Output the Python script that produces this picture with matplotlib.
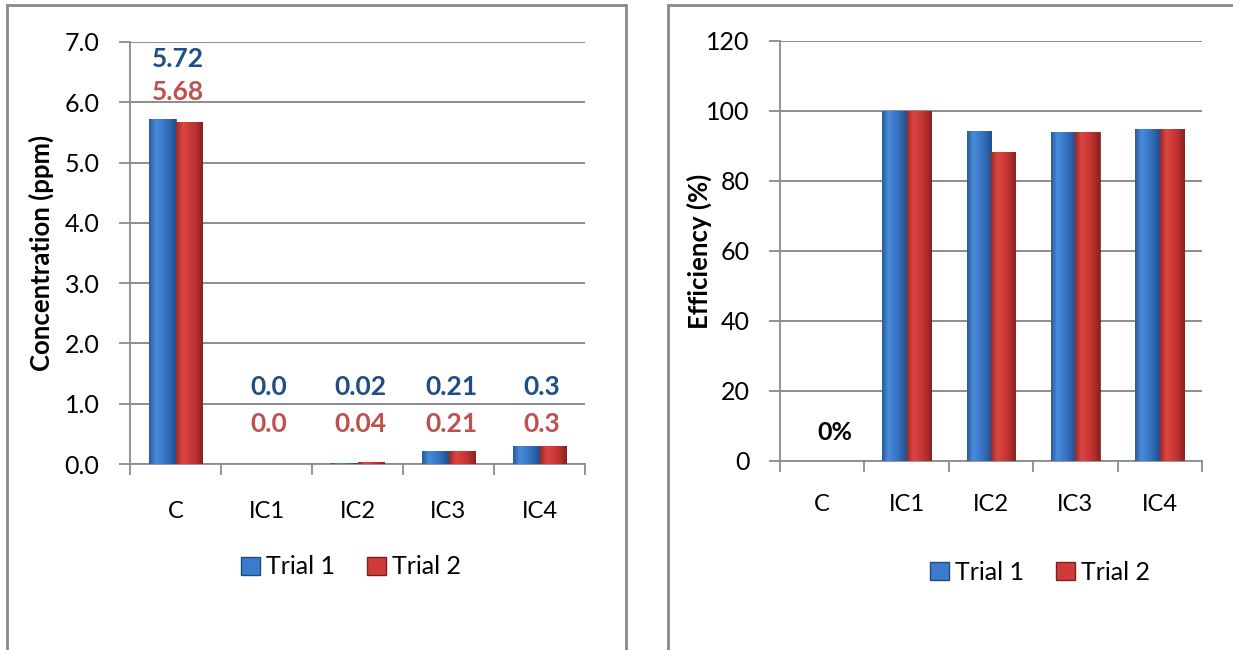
import numpy as np
import matplotlib
matplotlib.use("Agg")
import matplotlib.pyplot as plt
from matplotlib.colors import LinearSegmentedColormap
from matplotlib.patches import Rectangle, Patch

plt.rcParams["font.family"] = ["Lato", "DejaVu Sans"]

# data
categories = ["C", "IC1", "IC2", "IC3", "IC4"]
series = ["Trial 1", "Trial 2"]

conc_trial1 = [5.72, 0.0, 0.02, 0.21, 0.30]
conc_trial2 = [5.68, 0.0, 0.04, 0.21, 0.30]
conc_labels1 = ["5.72", "0.0", "0.02", "0.21", "0.3"]
conc_labels2 = ["5.68", "0.0", "0.04", "0.21", "0.3"]

eff_trial1 = [0.0, 100.0, 94.3, 94.0, 94.9]
eff_trial2 = [0.0, 100.0, 88.3, 94.0, 94.9]

blue_cmap = LinearSegmentedColormap.from_list(
    "b", ["#2a5a9c", "#4a8cdb", "#3b7bcc", "#2f68b2", "#244f8a"])
red_cmap = LinearSegmentedColormap.from_list(
    "r", ["#9a2a28", "#dc4642", "#cf3b38", "#b8302e", "#862221"])
blue_label = "#1f4e87"
red_label = "#c0504d"
grid_col = "#8c8c8c"


def shade_bars(ax, bars, cmap):
    grad = np.linspace(0, 1, 64).reshape(1, -1)
    for b in bars:
        h = b.get_height()
        if h <= 0:
            continue
        x0 = b.get_x()
        w = b.get_width()
        im = ax.imshow(grad, cmap=cmap, aspect="auto", zorder=3,
                       extent=(x0, x0 + w, 0, h), interpolation="bicubic")
        im.set_clip_path(b)
        b.set_facecolor("none")


def style_axes(ax, ylim, yticks, yfmt):
    ax.set_xlim(-0.5, len(categories) - 0.5)
    ax.set_ylim(*ylim)
    ax.set_yticks(yticks)
    ax.set_yticklabels([yfmt.format(t) for t in yticks], fontsize=18)
    ax.set_xticks(np.arange(len(categories) + 1) - 0.5)
    ax.set_xticklabels([])
    ax.set_xticks(np.arange(len(categories)), minor=True)
    ax.set_xticklabels(categories, minor=True, fontsize=17)
    ax.tick_params(axis="x", which="minor", length=0, pad=27)
    ax.tick_params(axis="x", which="major", length=8, width=1.3, color=grid_col)
    ax.tick_params(axis="y", length=8, width=1.3, color=grid_col, pad=14)
    ax.yaxis.grid(True, color=grid_col, linewidth=1.4)
    ax.set_axisbelow(True)
    for s in ["top", "right"]:
        ax.spines[s].set_visible(False)
    for s in ["left", "bottom"]:
        ax.spines[s].set_color(grid_col)
        ax.spines[s].set_linewidth(1.3)


fig = plt.figure(figsize=(12.33, 6.5), dpi=100)

# panel frames
fig.patches.append(Rectangle((7 / 1233, -0.05), (626 - 7) / 1233, 1.05 - 5 / 650,
                             transform=fig.transFigure, fill=False,
                             edgecolor="#8a8a8a", linewidth=2))
fig.patches.append(Rectangle((668 / 1233, -0.05), 0.6, 1.05 - 5 / 650,
                             transform=fig.transFigure, fill=False,
                             edgecolor="#8a8a8a", linewidth=2))

x = np.arange(len(categories))
bw = 0.29

# left: concentration
ax1 = fig.add_axes([130 / 1233, 1 - 464 / 650, 455 / 1233, 422 / 650])
b1 = ax1.bar(x - bw / 2, conc_trial1, bw, edgecolor="#23497e", linewidth=0.6, zorder=3)
b2 = ax1.bar(x + bw / 2, conc_trial2, bw, edgecolor="#7a2220", linewidth=0.6, zorder=3)
shade_bars(ax1, b1, blue_cmap)
shade_bars(ax1, b2, red_cmap)
for i in range(len(categories)):
    y1 = conc_trial1[i] + 1.0 if conc_trial1[i] > 1 else 1.28
    y2 = conc_trial2[i] + 0.49 if conc_trial2[i] > 1 else 0.66
    ax1.text(x[i] + 0.03, y1, conc_labels1[i], ha="center", va="center",
             fontsize=19, fontweight="bold", color=blue_label, zorder=5)
    ax1.text(x[i] + 0.03, y2, conc_labels2[i], ha="center", va="center",
             fontsize=19, fontweight="bold", color=red_label, zorder=5)
style_axes(ax1, (0, 7), np.arange(0, 8, 1.0), "{:.1f}")
ax1.set_ylabel("Concentration (ppm)", fontsize=18.5, fontweight="bold")
ax1.yaxis.set_label_coords((54 - 130) / 455, 0.5)

# right: efficiency
ax2 = fig.add_axes([780 / 1233, 1 - 461 / 650, 422 / 1233, 420 / 650])
c1 = ax2.bar(x - bw / 2, eff_trial1, bw, edgecolor="#23497e", linewidth=0.6, zorder=3)
c2 = ax2.bar(x + bw / 2, eff_trial2, bw, edgecolor="#7a2220", linewidth=0.6, zorder=3)
shade_bars(ax2, c1, blue_cmap)
shade_bars(ax2, c2, red_cmap)
ax2.text(x[0] + 0.15, 8, "0%", ha="center", va="center", fontsize=18,
         fontweight="bold", color="black", zorder=5)
style_axes(ax2, (0, 120), np.arange(0, 121, 20), "{:.0f}")
ax2.tick_params(axis="x", which="minor", pad=24)
ax2.set_ylabel("Efficiency (%)", fontsize=18.5, fontweight="bold")
ax2.yaxis.set_label_coords((712 - 780) / 422, 0.5)

# legends
handles = [Patch(facecolor="#3a7bcc", edgecolor="#23497e", label=series[0]),
           Patch(facecolor="#cf3b38", edgecolor="#7a2220", label=series[1])]
for cx, cy in [(351, 567), (1040, 572)]:
    fig.legend(handles=handles, loc="center", ncol=2, frameon=False,
               bbox_to_anchor=(cx / 1233, 1 - cy / 650), fontsize=18,
               handlelength=0.75, handleheight=0.75, handletextpad=0.25,
               columnspacing=1.3)

fig.savefig("out.png", dpi=100)
